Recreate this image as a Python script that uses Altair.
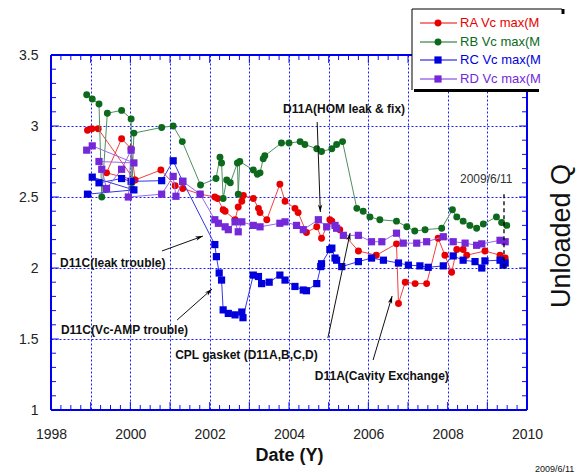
import math
import altair as alt
import pandas as pd

W, H = 476, 355
FONT = "Liberation Sans"

# ---------------- data ----------------
ra_year = [1998.92, 1999.03, 1999.19, 2000.10, 1999.40, 1999.78, 2000.02, 2000.12, 2000.77, 2001.13,
           2001.32, 2001.76, 2002.13, 2002.20, 2002.34, 2002.39, 2002.64, 2002.72, 2002.81, 2002.85,
           2003.10, 2003.23, 2003.27, 2003.44, 2003.77, 2003.90, 2004.15, 2004.23, 2004.44, 2004.70,
           2004.82, 2005.03, 2005.08, 2005.28, 2005.75, 2006.20, 2006.71, 2006.76, 2006.93, 2007.18,
           2007.47, 2007.76, 2007.93, 2008.10, 2008.23, 2008.39, 2008.48, 2008.94, 2009.32, 2009.45]
ra_val = [2.97, 2.98, 2.98, 2.62, 2.67, 2.91, 2.84, 2.62, 2.69, 2.58,
          2.56, 2.52, 2.50, 2.49, 2.41, 2.40, 2.34, 2.43, 2.47, 2.51,
          2.49, 2.42, 2.39, 2.34, 2.59, 2.47, 2.42, 2.39, 2.25, 2.29,
          2.21, 2.34, 2.33, 2.27, 2.12, 2.09, 2.17, 1.75, 1.90, 1.89,
          1.89, 2.21, 2.09, 1.97, 2.13, 2.13, 2.09, 2.12, 2.09, 2.07]

rb_year = [1998.90, 1999.04, 1999.21, 1999.28, 1999.42, 1999.78, 2000.02, 2000.04, 2000.09, 2000.79,
           2001.08, 2001.31, 2001.77, 2002.16, 2002.26, 2002.30, 2002.34, 2002.43, 2002.52, 2002.70,
           2002.72, 2002.76, 2003.10, 2003.20, 2003.27, 2003.35, 2003.39, 2003.81, 2004.00, 2004.28,
           2004.40, 2004.70, 2004.82, 2005.08, 2005.20, 2005.35, 2005.71, 2005.87, 2006.04, 2006.29,
           2006.71, 2006.97, 2007.17, 2007.43, 2007.85, 2008.12, 2008.23, 2008.39, 2008.56, 2008.73,
           2008.90, 2009.23, 2009.36, 2009.49]
rb_val = [3.22, 3.19, 3.155, 2.50, 3.09, 3.11, 3.05, 2.56, 2.95, 2.99,
          3.00, 2.89, 2.585, 2.63, 2.78, 2.74, 2.49, 2.62, 2.60, 2.74,
          2.52, 2.75, 2.69, 2.66, 2.67, 2.77, 2.79, 2.88, 2.88, 2.89,
          2.87, 2.84, 2.82, 2.84, 2.87, 2.89, 2.42, 2.40, 2.36, 2.34,
          2.33, 2.29, 2.26, 2.27, 2.28, 2.41, 2.36, 2.33, 2.30, 2.28,
          2.31, 2.36, 2.32, 2.30]

rc_year = [1998.92, 2000.09, 1999.04, 1999.21, 1999.78, 2000.02, 2000.79, 2001.08, 2001.32, 2002.13,
           2002.17, 2002.24, 2002.30, 2002.34, 2002.47, 2002.64, 2002.81, 2002.84, 2003.10, 2003.23,
           2003.31, 2003.50, 2003.77, 2003.90, 2004.15, 2004.36, 2004.44, 2004.70, 2004.80, 2004.82,
           2005.03, 2005.08, 2005.16, 2005.20, 2005.33, 2005.75, 2006.08, 2006.38, 2006.76, 2007.01,
           2007.30, 2007.51, 2007.89, 2008.14, 2008.39, 2008.69, 2008.86, 2008.94, 2009.32, 2009.40,
           2009.45]
rc_val = [2.52, 2.55, 2.64, 2.60, 2.63, 2.61, 2.615, 2.755, 2.61, 2.165,
          2.08, 1.965, 1.915, 1.705, 1.68, 1.67, 1.69, 1.65, 1.95, 1.94,
          1.89, 1.90, 1.95, 1.915, 1.87, 1.845, 1.84, 1.89, 2.01, 2.03,
          2.13, 2.14, 2.07, 2.055, 2.01, 2.045, 2.07, 2.055, 2.035, 2.02,
          2.015, 2.005, 2.015, 2.085, 2.055, 2.045, 2.00, 2.05, 2.055, 2.02,
          2.035]

rd_year = [1998.90, 1999.04, 2000.09, 1999.21, 1999.28, 1999.40, 1999.78, 2000.02, 1999.95, 2000.79,
           2001.08, 2001.15, 2001.32, 2001.76, 2002.13, 2002.22, 2002.39, 2002.47, 2002.64, 2002.72,
           2002.81, 2003.10, 2003.27, 2003.77, 2003.90, 2004.19, 2004.36, 2004.74, 2004.95, 2005.16,
           2005.20, 2005.37, 2005.75, 2006.08, 2006.34, 2006.71, 2006.88, 2007.22, 2007.47, 2007.89,
           2008.14, 2008.44, 2008.73, 2008.86, 2009.32, 2009.45]
rd_val = [2.83, 2.86, 2.74, 2.75, 2.695, 2.56, 2.695, 2.83, 2.50, 2.52,
          2.645, 2.505, 2.61, 2.52, 2.34, 2.315, 2.29, 2.27, 2.325, 2.255,
          2.325, 2.30, 2.29, 2.315, 2.325, 2.30, 2.27, 2.34, 2.29, 2.30,
          2.28, 2.23, 2.23, 2.185, 2.185, 2.245, 2.175, 2.175, 2.185, 2.22,
          2.185, 2.175, 2.16, 2.17, 2.195, 2.185]

series_names = ["RA Vc max(MV)", "RB Vc max(MV)", "RC Vc max(MV)", "RD Vc max(MV)"]
series_marker = ["#e80000", "#0d6a1c", "#0000dc", "#7428d8"]
series_line = ["#f04040", "#4f8f5f", "#3434f0", "#9a68ee"]
series_shape = ["circle", "circle", "square", "square"]
series_size = [48, 48, 52, 52]

ann_text = ["D11A(HOM leak & fix)", "D11C(leak trouble)", "D11C(Vc-AMP trouble)",
            "CPL gasket (D11A,B,C,D)", "D11A(Cavity Exchange)"]
ann_x = [2003.85, 1998.23, 1998.25, 2001.13, 2004.65]
ann_y = [3.12, 2.035, 1.563, 1.387, 1.239]

arrow_x1 = [2004.71, 2000.80, 2001.18, 2004.98, 2006.12]
arrow_y1 = [3.028, 2.12, 1.634, 1.507, 1.352]
arrow_x2 = [2004.79, 2001.83, 2002.06, 2005.54, 2006.60]
arrow_y2 = [2.394, 2.225, 1.852, 2.246, 1.803]

mark_date_text = "2009/6/11"
mark_date_x = 2009.42
mark_date_y = [2.52, 1.986]
mark_label_x = 2008.31
mark_label_y = 2.627

x_years = list(range(1998, 2011))
y_halves = [1, 1.5, 2, 2.5, 3, 3.5]

# ---------------- scales / axes ----------------
xscale = alt.Scale(domain=[1998, 2010], nice=False, zero=False)
yscale = alt.Scale(domain=[1, 3.5], nice=False, zero=False)

x_axis = alt.Axis(values=x_years, labelExpr="datum.value % 2 == 0 ? datum.label : ''",
                  format="d", grid=True, gridColor="#1a1aff", gridDash=[2, 2], gridWidth=1,
                  ticks=False, domain=False, labelFont=FONT, labelFontSize=14, labelColor="#222",
                  labelPadding=17, labelFlush=False, labelOverlap=False, labelBound=False,
                  title="Date (Y)", titleFont=FONT, titleFontSize=18, titleFontWeight="bold",
                  titleColor="#111", titlePadding=5)
y_axis = alt.Axis(values=y_halves, format="~g", grid=True, gridColor="#1a1aff", gridDash=[2, 2],
                  gridWidth=1, ticks=False, domain=False, labelFont=FONT, labelFontSize=14,
                  labelColor="#222", labelPadding=13, labelOverlap=False, title=None)


def X(field):
    return alt.X(field, type="quantitative", scale=xscale, axis=x_axis)


def Y(field):
    return alt.Y(field, type="quantitative", scale=yscale, axis=y_axis)


one = pd.DataFrame({"a": [0]})
layers = []

# ---------------- inner ticks (minor + major) ----------------
xt_minor = pd.DataFrame({"t": [1998 + q / 4 for q in range(49) if q % 4 != 0]})
xt_major = pd.DataFrame({"t": x_years})
yt_minor = pd.DataFrame({"t": [round(1 + k / 10, 2) for k in range(26) if k % 5 != 0]})
yt_major = pd.DataFrame({"t": y_halves})
TC = "#1010f0"
for df, ln in [(xt_minor, 5), (xt_major, 8)]:
    layers.append(alt.Chart(df).mark_rule(color=TC, strokeWidth=1).encode(
        x=X("t"), y=alt.value(H), y2=alt.value(H - ln)))
    layers.append(alt.Chart(df).mark_rule(color=TC, strokeWidth=1).encode(
        x=X("t"), y=alt.value(0), y2=alt.value(ln)))
for df, ln in [(yt_minor, 5), (yt_major, 8)]:
    layers.append(alt.Chart(df).mark_rule(color=TC, strokeWidth=1).encode(
        y=Y("t"), x=alt.value(0), x2=alt.value(ln)))
    layers.append(alt.Chart(df).mark_rule(color=TC, strokeWidth=1).encode(
        y=Y("t"), x=alt.value(W), x2=alt.value(W - ln)))

# ---------------- frame ----------------
FC = "#0000f0"
layers.append(alt.Chart(one).mark_rule(color=FC, strokeWidth=2).encode(
    x=alt.value(0), y=alt.value(0), y2=alt.value(H)))
layers.append(alt.Chart(one).mark_rule(color=FC, strokeWidth=2).encode(
    x=alt.value(W), y=alt.value(0), y2=alt.value(H)))
layers.append(alt.Chart(one).mark_rule(color=FC, strokeWidth=2).encode(
    y=alt.value(0), x=alt.value(0), x2=alt.value(W)))
layers.append(alt.Chart(one).mark_rule(color=FC, strokeWidth=2).encode(
    y=alt.value(H), x=alt.value(0), x2=alt.value(W)))

# ---------------- series ----------------
all_years = [ra_year, rb_year, rc_year, rd_year]
all_vals = [ra_val, rb_val, rc_val, rd_val]
for k in range(4):
    df = pd.DataFrame({"year": all_years[k], "val": all_vals[k], "i": range(len(all_years[k]))})
    layers.append(alt.Chart(df).mark_line(color=series_line[k], strokeWidth=1).encode(
        x=X("year"), y=Y("val"), order=alt.Order("i:Q")))
    layers.append(alt.Chart(df).mark_point(shape=series_shape[k], filled=True, opacity=1,
                                           color=series_marker[k], size=series_size[k]).encode(
        x=X("year"), y=Y("val")))

# ---------------- annotations ----------------
ann = pd.DataFrame({"x": ann_x, "y": ann_y, "text": ann_text})
layers.append(alt.Chart(ann).mark_text(align="left", baseline="middle", font=FONT, fontSize=12,
                                       fontWeight="bold", color="#111").encode(
    x=X("x"), y=Y("y"), text="text:N"))

angles = []
for x1, y1, x2, y2 in zip(arrow_x1, arrow_y1, arrow_x2, arrow_y2):
    dx = (x2 - x1) / 12 * W
    dy = -(y2 - y1) / 2.5 * H
    angles.append(math.degrees(math.atan2(dx, -dy)) % 360)
arr = pd.DataFrame({"x1": arrow_x1, "y1": arrow_y1, "x2": arrow_x2, "y2": arrow_y2, "ang": angles})
layers.append(alt.Chart(arr).mark_rule(color="#111", strokeWidth=1).encode(
    x=X("x1"), y=Y("y1"), x2="x2:Q", y2="y2:Q"))
layers.append(alt.Chart(arr).mark_point(shape="M0,0L-0.55,1.9L0,1.35L0.55,1.9Z", filled=True,
                                        opacity=1, color="#000", size=64, strokeWidth=0).encode(
    x=X("x2"), y=Y("y2"), angle=alt.Angle("ang:Q", scale=None)))

md = pd.DataFrame({"x": [mark_date_x], "y": [mark_date_y[0]], "y2": [mark_date_y[1]]})
layers.append(alt.Chart(md).mark_rule(color="#000", strokeWidth=1.3, strokeDash=[4, 3]).encode(
    x=X("x"), y=Y("y"), y2="y2:Q"))
ml = pd.DataFrame({"x": [mark_label_x], "y": [mark_label_y], "text": [mark_date_text]})
layers.append(alt.Chart(ml).mark_text(align="left", baseline="middle", font=FONT, fontSize=12,
                                      color="#333").encode(x=X("x"), y=Y("y"), text="text:N"))

# ---------------- right title + footer ----------------
layers.append(alt.Chart(one).mark_text(angle=270, align="center", baseline="middle", font=FONT,
                                       fontSize=27, color="#111", text="Unloaded Q").encode(
    x=alt.value(511), y=alt.value(181)))
layers.append(alt.Chart(one).mark_text(align="left", baseline="middle", font=FONT, fontSize=9,
                                       color="#111", text="2009/6/11").encode(
    x=alt.value(484), y=alt.value(414)))

# ---------------- legend box ----------------
LX0, LX1, LY0, LY1 = 361, 488, -46, 35
layers.append(alt.Chart(one).mark_rect(color="#555", opacity=1).encode(
    x=alt.value(LX0 + 2), x2=alt.value(LX1), y=alt.value(LY1 - 1), y2=alt.value(LY1 + 2)))
layers.append(alt.Chart(one).mark_rect(color="white", opacity=1).encode(
    x=alt.value(LX0), x2=alt.value(LX1), y=alt.value(LY0), y2=alt.value(LY1)))
layers.append(alt.Chart(one).mark_rule(color="#000", strokeWidth=1).encode(
    x=alt.value(LX0), x2=alt.value(511), y=alt.value(LY0)))
layers.append(alt.Chart(one).mark_rule(color="#000", strokeWidth=1).encode(
    x=alt.value(LX0), y=alt.value(LY0), y2=alt.value(LY1)))
layers.append(alt.Chart(one).mark_rule(color="#000", strokeWidth=3).encode(
    x=alt.value(LX0 + 2), x2=alt.value(LX1), y=alt.value(LY1 + 0.5)))
layers.append(alt.Chart(one).mark_rule(color="#000", strokeWidth=3).encode(
    x=alt.value(512), y=alt.value(LY0), y2=alt.value(LY0 + 5)))

row_y = [-32, -13, 5, 24]
for k in range(4):
    layers.append(alt.Chart(one).mark_rule(color=series_marker[k], strokeWidth=1).encode(
        x=alt.value(369), x2=alt.value(406), y=alt.value(row_y[k])))
    layers.append(alt.Chart(one).mark_point(shape=series_shape[k], filled=True, opacity=1,
                                            color=series_marker[k], size=series_size[k]).encode(
        x=alt.value(387), y=alt.value(row_y[k])))
    layers.append(alt.Chart(one).mark_text(align="left", baseline="middle", font=FONT, fontSize=13,
                                           color=series_marker[k], text=series_names[k],
                                           limit=87, ellipsis=" ").encode(
        x=alt.value(409), y=alt.value(row_y[k])))

chart = alt.layer(*layers).properties(
    width=W, height=H,
    autosize=alt.AutoSizeParams(type="none"),
    padding={"left": 51, "top": 55, "right": 51, "bottom": 62},
    background="white",
).configure_view(stroke=None)

chart.save("out.html", embed_options={"renderer": "svg", "actions": False})
